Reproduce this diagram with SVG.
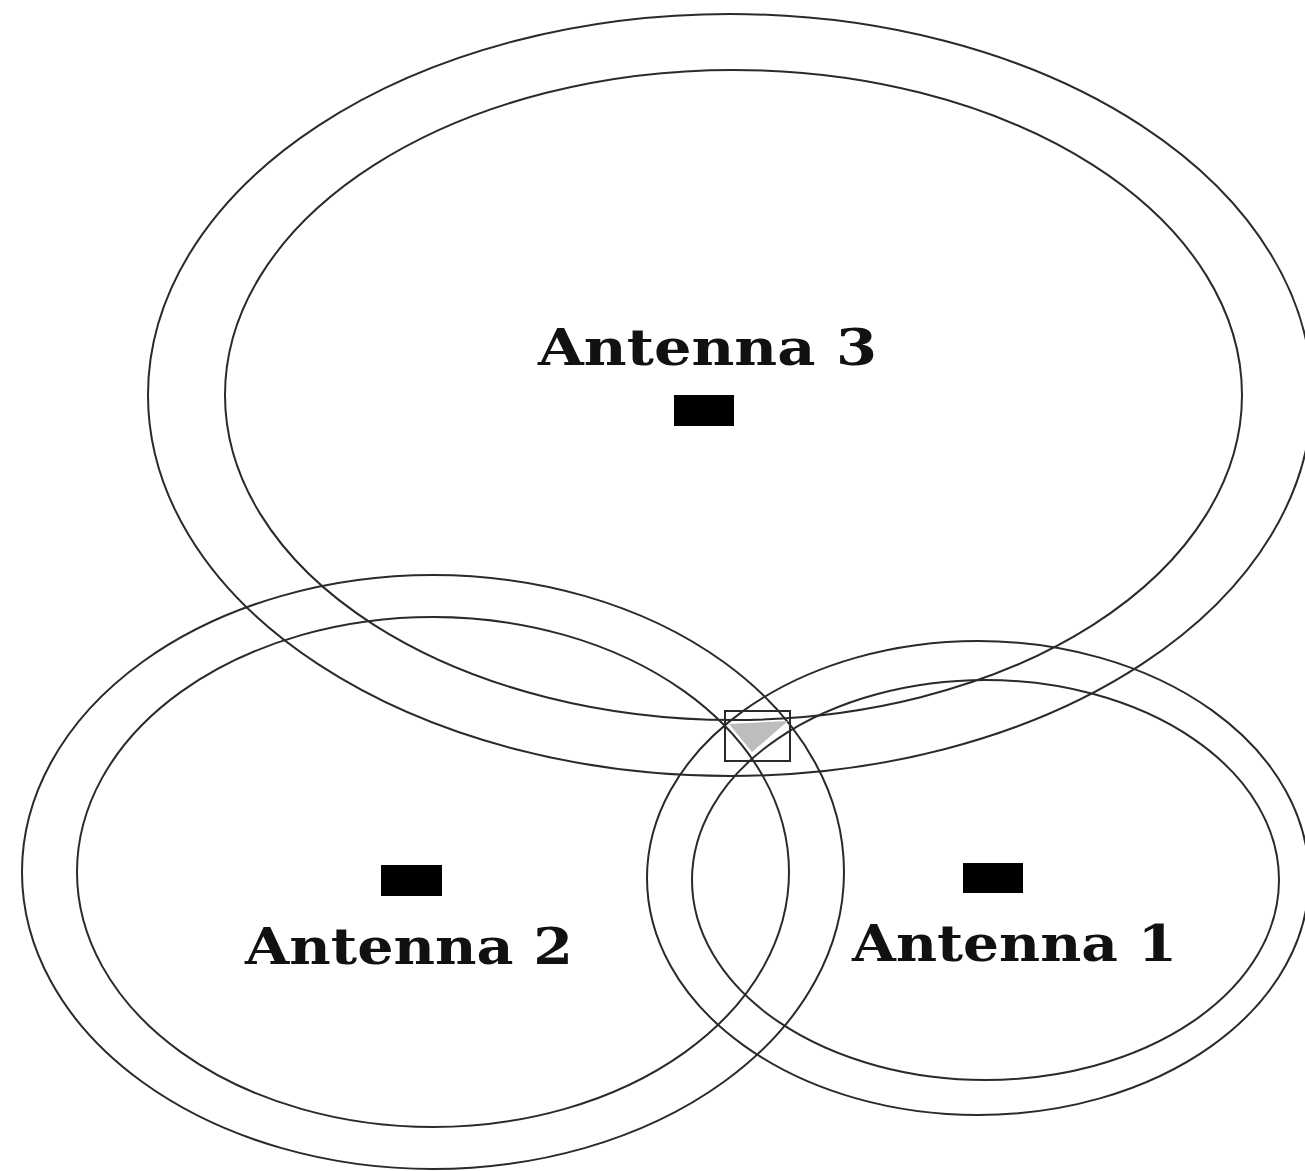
<svg xmlns="http://www.w3.org/2000/svg" width="1305" height="1171" viewBox="0 0 1305 1171">
<style>
.ring{fill:none;stroke:#2a2a2a;stroke-width:2}
.ant{fill:#000}
.lbl{font-family:"DejaVu Serif","Liberation Serif",serif;font-weight:bold;font-size:50px;fill:#111}
</style>
<rect width="1305" height="1171" fill="#fff"/>
<g id="antenna3">
<ellipse class="ring" cx="730" cy="395" rx="582" ry="381"/>
<ellipse class="ring" cx="733.5" cy="395" rx="508.5" ry="325"/>
<rect class="ant" x="674" y="395" width="60" height="31"/>
<text class="lbl" x="538" y="365" textLength="339" lengthAdjust="spacingAndGlyphs">Antenna 3</text>
</g>
<g id="antenna2">
<ellipse class="ring" cx="433" cy="872" rx="411" ry="297"/>
<ellipse class="ring" cx="433" cy="872" rx="356" ry="255"/>
<rect class="ant" x="381" y="865" width="61" height="31"/>
<text class="lbl" x="245" y="964" textLength="328" lengthAdjust="spacingAndGlyphs">Antenna 2</text>
</g>
<g id="antenna1">
<ellipse class="ring" cx="978" cy="878" rx="331" ry="237"/>
<ellipse class="ring" cx="985.5" cy="880" rx="293.5" ry="200"/>
<rect class="ant" x="963" y="863" width="60" height="30"/>
<text class="lbl" x="852" y="961" textLength="325" lengthAdjust="spacingAndGlyphs">Antenna 1</text>
</g>
<g id="intersection">
<polygon points="729,724 788,721 752,752" fill="#bdbdbd"/>
<rect x="725" y="711" width="65" height="50" fill="none" stroke="#2a2a2a" stroke-width="2"/>
</g>
</svg>
